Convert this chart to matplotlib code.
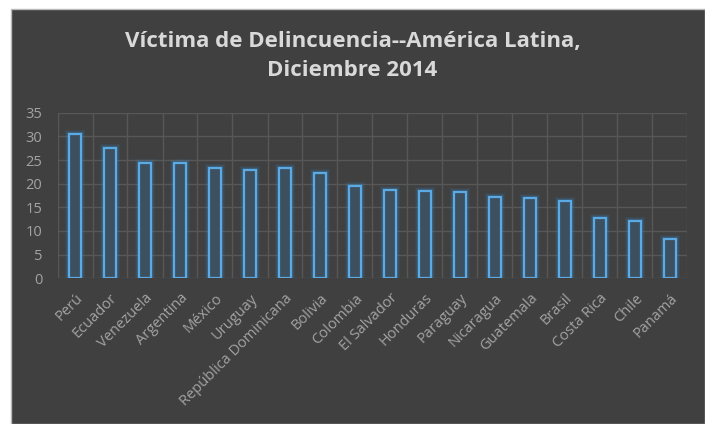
import matplotlib
matplotlib.use("Agg")
import matplotlib.pyplot as plt
from matplotlib.patches import Rectangle

countries = ["Perú", "Ecuador", "Venezuela", "Argentina", "México", "Uruguay",
             "República Dominicana", "Bolivia", "Colombia", "El Salvador",
             "Honduras", "Paraguay", "Nicaragua", "Guatemala", "Brasil",
             "Costa Rica", "Chile", "Panamá"]
values = [30.4, 27.5, 24.4, 24.4, 23.4, 22.8, 23.4, 22.3, 19.5, 18.7,
          18.4, 18.2, 17.1, 17.0, 16.3, 12.7, 12.1, 8.3]
yticks = [0, 5, 10, 15, 20, 25, 30, 35]
title = "Víctima de Delincuencia--América Latina,\nDiciembre 2014"

W, H = 705, 424
fig = plt.figure(figsize=(W / 100, H / 100), dpi=100)
fig.patch.set_facecolor("white")
bg = "#404040"
fig.add_artist(Rectangle((11 / W, 0), 1 - 11 / W, 1 - 9 / H, transform=fig.transFigure,
                         facecolor=bg, edgecolor="#b8b8b8", linewidth=1.0, zorder=0))

left, right = 57.5 / W, 687.5 / W
bottom, top = 1 - 278.3 / H, 1 - 112.7 / H
ax = fig.add_axes([left, bottom, right - left, top - bottom])
ax.set_facecolor(bg)
ax.patch.set_alpha(0)

x = list(range(len(countries)))
# glow layers
for lw, a in [(6, 0.08), (4.5, 0.12), (3, 0.18)]:
    ax.bar(x, values, width=0.32, facecolor="none", edgecolor="#3a8fd0",
           linewidth=lw, alpha=a, zorder=3)
ax.bar(x, values, width=0.32, facecolor="#3d5060", edgecolor="#5aaae6",
       linewidth=1.6, zorder=4)

ax.set_xlim(-0.5, len(countries) - 0.5)
ax.set_ylim(0, 35)
ax.set_yticks(yticks)
ax.set_xticks([i + 0.5 for i in range(-1, len(countries))], minor=True)
ax.grid(False)
ax.yaxis.grid(True, color="#575757", linewidth=1.0, zorder=0)
ax.xaxis.grid(True, which="minor", color="#575757", linewidth=1.0, zorder=0)
ax.set_axisbelow(True)
for s in ax.spines.values():
    s.set_visible(False)

font = "Open Sans"
ax.set_xticks(x)
ax.set_xticklabels(countries, rotation=45, ha="right", rotation_mode="anchor",
                   fontsize=10.5, color="#a3a3a3", family=font)
ax.tick_params(axis="x", which="both", length=0, pad=9)
ax.tick_params(axis="y", length=0, pad=11, labelsize=10.5, labelcolor="#a3a3a3")
for lab in ax.get_yticklabels():
    lab.set_family(font)

fig.text(0.5, 1 - 56 / H, title, ha="center", va="center", fontsize=16,
         fontweight="bold", color="#d9d9d9", family=font, linespacing=1.45)

fig.savefig("out.png", dpi=100, facecolor=fig.get_facecolor())
